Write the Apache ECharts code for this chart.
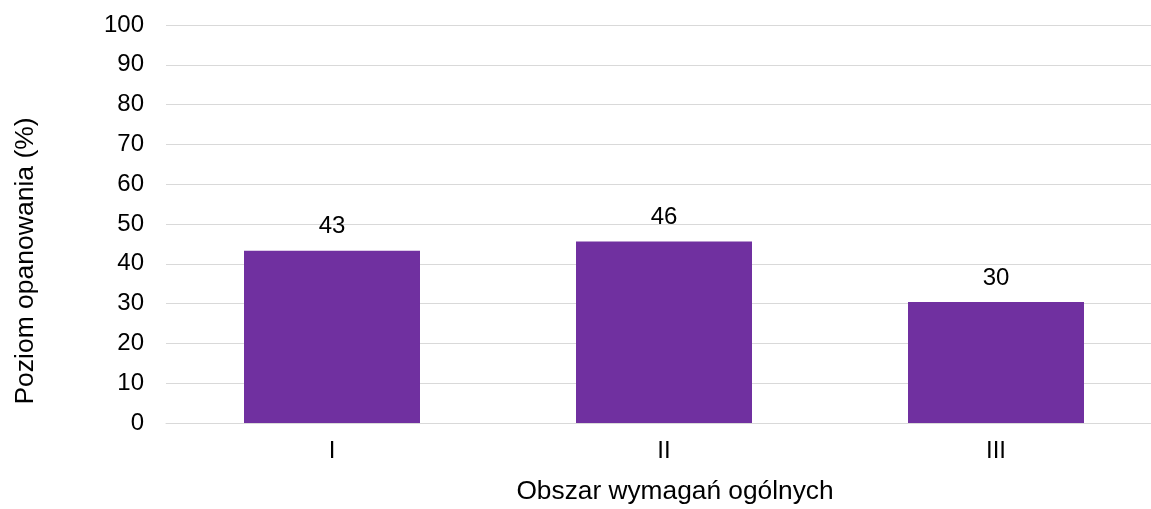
<!DOCTYPE html>
<html>
<head>
<meta charset="utf-8">
<script src="https://cdn.jsdelivr.net/npm/echarts@6/dist/echarts.min.js"></script>
<style>
html,body{margin:0;padding:0;background:#fff;}
#c{width:1151px;height:509px;}
</style>
</head>
<body>
<div id="c"></div>
<script>
const categories = ['I', 'II', 'III'];
const values = [43.3, 45.6, 30.4];
const yTicks = { min: 0, max: 100, interval: 10 };
const xTitle = 'Obszar wymagań ogólnych';
const yTitle = 'Poziom opanowania (%)';

const FONT = '"Liberation Sans", Arial, sans-serif';
const chart = echarts.init(document.getElementById('c'), null, { renderer: 'canvas' });
chart.setOption({
  animation: false,
  backgroundColor: '#ffffff',
  grid: { left: 166, right: -11, top: 25, bottom: 86, outerBoundsMode: 'none', containLabel: false },
  xAxis: {
    type: 'category',
    data: categories,
    axisLine: { show: true, lineStyle: { color: '#d9d9d9', width: 1 } },
    axisTick: { show: false },
    axisLabel: { color: '#000', fontFamily: FONT, fontSize: 24, margin: 16 }
  },
  yAxis: {
    type: 'value',
    min: yTicks.min,
    max: yTicks.max,
    interval: yTicks.interval,
    axisLine: { show: false },
    axisTick: { show: false },
    splitLine: { show: true, lineStyle: { color: '#d9d9d9', width: 1 } },
    axisLabel: { color: '#000', fontFamily: FONT, fontSize: 24, margin: 22 }
  },
  graphic: [{
    type: 'text',
    x: 26,
    y: 261,
    rotation: Math.PI / 2,
    style: {
      text: yTitle,
      fill: '#000',
      font: '26.5px ' + FONT,
      textAlign: 'center',
      textVerticalAlign: 'middle'
    }
  }, {
    type: 'text',
    x: 675,
    y: 492,
    style: {
      text: xTitle,
      fill: '#000',
      font: '26.3px ' + FONT,
      textAlign: 'center',
      textVerticalAlign: 'middle'
    }
  }],
  series: [{
    type: 'bar',
    data: values,
    barWidth: 176,
    itemStyle: { color: '#7030a0' },
    label: {
      show: true,
      position: 'top',
      distance: 12,
      color: '#000',
      fontFamily: FONT,
      fontSize: 24,
      formatter: p => Math.round(p.value)
    }
  }]
});
</script>
</body>
</html>
